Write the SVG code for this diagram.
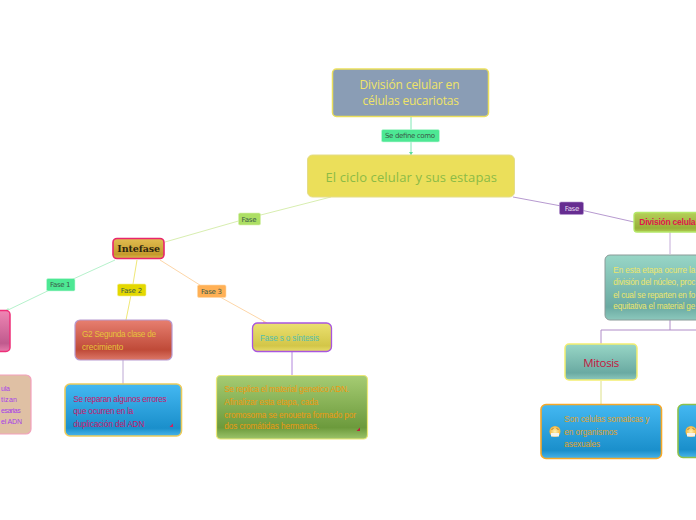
<svg xmlns="http://www.w3.org/2000/svg" width="696" height="520" viewBox="0 0 696 520">
<style>
text{font-family:"Liberation Sans",Arial,sans-serif;font-size:8.2px}
.ti{font-family:"Open Sans","Noto Sans",sans-serif;font-size:12px;fill:#f0e468}
.lb{font-size:7px;fill:#3a5a48;font-family:"DejaVu Sans",sans-serif}
.c{fill:none;stroke-width:1}
.sm{font-size:7px}
</style>
<defs>
<linearGradient id="gB" x1="0" y1="0" x2="0" y2="1"><stop offset="0" stop-color="#44b8f2"/><stop offset=".85" stop-color="#1a8fcb"/><stop offset="1" stop-color="#48b4ea"/></linearGradient>
<linearGradient id="gR" x1="0" y1="0" x2="0" y2="1"><stop offset="0" stop-color="#e77f70"/><stop offset=".75" stop-color="#bf4a38"/><stop offset="1" stop-color="#dd7868"/></linearGradient>
<linearGradient id="gG" x1="0" y1="0" x2="0" y2="1"><stop offset="0" stop-color="#a6cc73"/><stop offset=".82" stop-color="#6c9a3c"/><stop offset="1" stop-color="#9cc46a"/></linearGradient>
<linearGradient id="gY" x1="0" y1="0" x2="0" y2="1"><stop offset="0" stop-color="#ebe070"/><stop offset=".8" stop-color="#d3c648"/><stop offset="1" stop-color="#e8dc68"/></linearGradient>
<linearGradient id="gI" x1="0" y1="0" x2="0" y2="1"><stop offset="0" stop-color="#e2bd50"/><stop offset=".8" stop-color="#c59a2c"/><stop offset="1" stop-color="#dcb84c"/></linearGradient>
<linearGradient id="gT" x1="0" y1="0" x2="0" y2="1"><stop offset="0" stop-color="#98d6c6"/><stop offset=".8" stop-color="#6aaaa2"/><stop offset="1" stop-color="#8cc8bc"/></linearGradient>
<linearGradient id="gL" x1="0" y1="0" x2="0" y2="1"><stop offset="0" stop-color="#b5cf58"/><stop offset=".8" stop-color="#98b038"/><stop offset="1" stop-color="#b0ca50"/></linearGradient>
<linearGradient id="gP" x1="0" y1="0" x2="0" y2="1"><stop offset="0" stop-color="#ef86b4"/><stop offset=".8" stop-color="#c05a8e"/><stop offset="1" stop-color="#e67cac"/></linearGradient>
<radialGradient id="em"><stop offset="0" stop-color="#fff2b0"/><stop offset="1" stop-color="#f5b43a"/></radialGradient>
</defs>
<g id="connectors">
<path class="c" d="M411 117V155" stroke="#7ee8b4" stroke-width="1.5"/>
<path d="M409 152h4l-2 3z" fill="#5ddc9a"/>
<path class="c" d="M331 197L249 218L165 242" stroke="#d8eeb0"/>
<path class="c" d="M513 197L572 208L634 222" stroke="#b79ad0"/>
<path class="c" d="M115 260L60 285L8 310" stroke="#b6f2cc"/>
<path class="c" d="M137 260L132 290L126 320" stroke="#f0e878" stroke-width="1.2"/>
<path class="c" d="M160 260L211 292L267 323" stroke="#fdd6a8"/>
<path class="c" d="M123 360V384" stroke="#bda8d4" stroke-width="1.2"/>
<path class="c" d="M292 352V375" stroke="#b286dc" stroke-width="1.2"/>
<path class="c" d="M670 232V254" stroke="#c4acd8" stroke-width="1.5"/>
<path class="c" d="M670 320V330" stroke="#b08cc8" stroke-width="1.5"/>
<path class="c" d="M601 330H696" stroke="#b08cc8"/>
<path class="c" d="M601 330V344" stroke="#b08cc8"/>
<path class="c" d="M601 381V404" stroke="#dde088"/>
<path d="M6 310h4l-2 -2z" fill="#b6f2cc"/>
<path d="M263 320l4 3l-4 1z" fill="#fdd6a8"/>
</g>
<g id="n-division-eucariotas">
<rect x="332.500" y="69" width="156" height="47.500" rx="4" fill="#8a9db5" stroke="#ebdf5c" stroke-width="1.500"/>
<text class="ti" x="359.500" y="89" textLength="100">División celular en</text>
<text class="ti" x="362.500" y="105" textLength="96.500">células eucariotas</text>
</g>
<g id="n-ciclo">
<rect x="307.500" y="155" width="207" height="42" rx="5" fill="#ebdf5a" stroke="#e4dc88"/>
<text x="325.500" y="181.500" textLength="171.500" style="font-family:'Open Sans','Noto Sans',sans-serif;font-size:13px;font-weight:500;fill:#8cbb46">El ciclo celular y sus estapas</text>
</g>
<g id="n-interfase">
<rect x="113" y="238.500" width="51" height="20" rx="4" fill="url(#gI)" stroke="#e8256c" stroke-width="1.600"/>
<text x="117.300" y="252.300" textLength="42.700" style="font-family:'DejaVu Serif',serif;font-size:9.500px;font-weight:bold;fill:#2f2610">Intefase</text>
</g>
<g id="n-fase1-stub">
<rect x="-20" y="310.500" width="30" height="41" rx="4" fill="url(#gP)" stroke="#ee2f78" stroke-width="1.500"/>
</g>
<g id="n-fase1-text">
<rect x="-20" y="375" width="51" height="59" rx="5" fill="#dfc0a4" stroke="#f3a0bc" stroke-width="1.200"/>
<g fill="#a63fe8">
<text class="sm" x="1" y="390.700" textLength="9">ula</text>
<text class="sm" x="1" y="401.700" textLength="16">tizan</text>
<text class="sm" x="1" y="413" textLength="19.700">esarias</text>
<text class="sm" x="1" y="424" textLength="21">el ADN</text>
</g>
</g>
<g id="n-g2">
<rect x="75" y="320" width="97" height="40" rx="5" fill="url(#gR)" stroke="#b79ad0" stroke-width="1.200"/>
<text x="82" y="337.300" textLength="74" fill="#e6c23a">G2 Segunda clase de</text>
<text x="82" y="350" textLength="41.300" fill="#e6c23a">crecimiento</text>
</g>
<g id="n-g2-text">
<rect x="65" y="384" width="116.500" height="52" rx="5" fill="url(#gB)" stroke="#eccb5c" stroke-width="1.600"/>
<g fill="#c7186a">
<text x="73.300" y="402.300" textLength="93.400">Se reparan algunos errores</text>
<text x="73.300" y="414" textLength="60">que ocurren en la</text>
<text x="73.300" y="427.300" textLength="71">duplicación del ADN</text>
</g>
<path d="M173 427h-3.500l3.500-3.500z" fill="#d81e5b"/>
</g>
<g id="n-fase-s">
<rect x="252.500" y="323" width="79" height="28.500" rx="5" fill="url(#gY)" stroke="#a855e0" stroke-width="1.300"/>
<text x="260" y="340.700" textLength="59" fill="#55bfae">Fase s o síntesis</text>
</g>
<g id="n-fase-s-text">
<rect x="216.500" y="375.500" width="151" height="63.500" rx="4" fill="url(#gG)" stroke="#ece878" stroke-width="1.200"/>
<g fill="#ed9a10">
<text x="224.300" y="392.300" textLength="125">Se replica el material genetico ADN.</text>
<text x="224.300" y="405" textLength="94">Afinalizar esta etapa, cada</text>
<text x="224.300" y="417.700" textLength="131.700">cromosoma se enouetra formado por</text>
<text x="224.300" y="429.300" textLength="94.700">dos cromátidas hermanas.</text>
</g>
<path d="M360 431h-3.500l3.500-3.500z" fill="#c01e3c"/>
</g>
<g id="n-division-celular">
<rect x="634" y="212.500" width="80" height="19.500" rx="3" fill="url(#gL)" stroke="#b4e868" stroke-width="1.300"/>
<text x="639.300" y="225" textLength="56.200" style="font-size:8.500px;font-weight:bold;fill:#e0144c">División celula</text>
</g>
<g id="n-etapa">
<rect x="605" y="255" width="110" height="65" rx="5" fill="url(#gT)" stroke="#8a9a98" stroke-width="1"/>
<g fill="#ece66c">
<text x="613.300" y="272.700" textLength="82">En esta etapa ocurre la</text>
<text x="613.300" y="285" textLength="82">división del núcleo, proc</text>
<text x="613.300" y="297.700" textLength="82">el cual se reparten en fo</text>
<text x="613.300" y="309.300" textLength="82">equitativa el material ge</text>
</g>
</g>
<g id="n-mitosis">
<rect x="565" y="344" width="72" height="36" rx="4" fill="url(#gT)" stroke="#f4ee70" stroke-width="1.500"/>
<text x="583.300" y="367" textLength="36" style="font-family:'Open Sans','Noto Sans',sans-serif;font-size:11.500px;fill:#c4163e">Mitosis</text>
</g>
<g id="n-somaticas">
<rect x="541" y="404.500" width="120.500" height="54" rx="5" fill="url(#gB)" stroke="#f6a828" stroke-width="1.600"/>
<g fill="#e0a32a">
<text x="564.300" y="422.300" textLength="85">Son celulas somaticas y</text>
<text x="564.300" y="435" textLength="53">en organismos</text>
<text x="564.300" y="447.300" textLength="35.700">asexuales</text>
</g>
<circle cx="555" cy="431.500" r="5.500" fill="url(#em)"/>
<path d="M551 433h8v3.500h-8z" fill="#f4f4f0"/>
<path d="M551.500 429.500l2 -1M556.500 428.500l2 1" stroke="#8a5a20" stroke-width=".7" fill="none"/>
</g>
<g id="n-right">
<rect x="678" y="404.500" width="40" height="53" rx="5" fill="url(#gB)" stroke="#8cc04c" stroke-width="1.600"/>
<circle cx="691" cy="431.500" r="5.500" fill="url(#em)"/>
<path d="M687 433h8v3.500h-8z" fill="#f4f4f0"/>
<path d="M687.500 429.500l2 -1M692.500 428.500l2 1" stroke="#8a5a20" stroke-width=".7" fill="none"/>
</g>
<g id="labels">
<rect x="381.500" y="129.500" width="58" height="12.500" rx="1.500" fill="#4de894" stroke="#c8f6dc" stroke-width=".6"/>
<text class="lb" x="385" y="138" textLength="50">Se define como</text>
<rect x="238.500" y="213" width="22" height="12" rx="1.500" fill="#addf64" stroke="#d8f0b0" stroke-width=".6"/>
<text class="lb" x="241.500" y="221.500" textLength="15">Fase</text>
<rect x="559.500" y="202" width="24" height="12.500" rx="1.500" fill="#662d91" stroke="#b79ad0" stroke-width=".6"/>
<text class="lb" x="564.700" y="210.500" textLength="14.500" style="fill:#e6dcf0">Fase</text>
<rect x="46.500" y="278.500" width="28.500" height="12.500" rx="1.500" fill="#4de894" stroke="#c8f6dc" stroke-width=".6"/>
<text class="lb" x="50" y="287.300" textLength="20.500">Fase 1</text>
<rect x="117.500" y="284" width="28.500" height="12" rx="1.500" fill="#e4d800" stroke="#f4ee90" stroke-width=".6"/>
<text class="lb" x="120.700" y="292.500" textLength="21.500">Fase 2</text>
<rect x="197.500" y="285" width="28.500" height="12.500" rx="1.500" fill="#ffb055" stroke="#ffd8a8" stroke-width=".6"/>
<text class="lb" x="201" y="294" textLength="21">Fase 3</text>
</g>
</svg>
